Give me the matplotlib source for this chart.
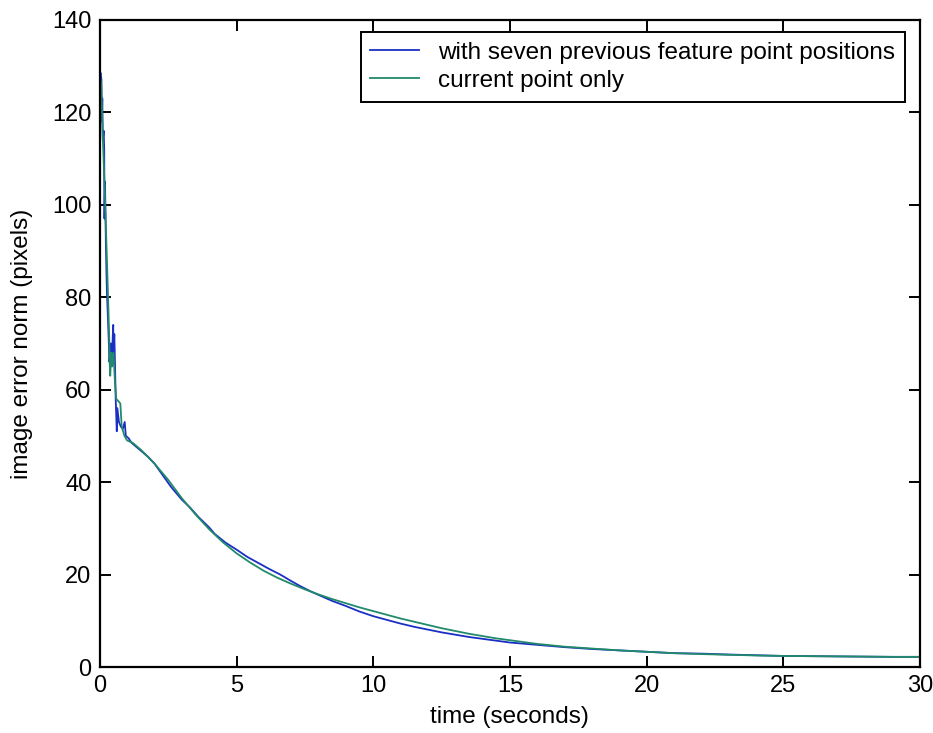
import matplotlib
matplotlib.use("Agg")
import matplotlib.pyplot as plt

# with seven previous feature point positions
t_seven = [0.0, 0.03, 0.06, 0.07, 0.09, 0.11, 0.14, 0.16, 0.17, 0.19, 0.22, 0.24,
           0.26, 0.30, 0.33, 0.35, 0.38, 0.40, 0.44, 0.47, 0.49, 0.50, 0.53, 0.56,
           0.58, 0.62, 0.64, 0.70, 0.77, 0.84, 0.91, 0.95, 1.05, 1.16, 1.3, 1.5,
           1.76, 2.0, 2.3, 2.6, 3.0, 3.3, 3.6, 4.0, 4.2, 4.6, 5.0, 5.4, 5.8, 6.2,
           6.6, 7.0, 7.3, 7.7, 8.0, 8.5, 9.0, 9.5, 10.0, 10.5, 11.0, 11.5, 12.0,
           12.5, 13.0, 13.5, 14.0, 14.5, 15.0, 16.0, 17.0, 18.0, 19.0, 20.0, 21.0,
           22.0, 23.0, 24.0, 25.0, 26.0, 27.0, 28.0, 29.0, 30.0]
err_seven = [128, 128.5, 127, 118, 123, 114, 116, 112, 97, 105, 92, 86,
             81, 75, 70, 66, 68, 70, 66, 71, 74, 68, 72, 64,
             58, 51, 56, 53, 52, 51.5, 53, 50, 49.5, 48.5, 47.8, 46.8,
             45.5, 44, 41.5, 39, 36.2, 34.5, 32.5, 30.2, 28.8, 26.9, 25.4, 23.8, 22.5, 21.2,
             20.0, 18.6, 17.6, 16.4, 15.6, 14.3, 13.2, 12.0, 11.0, 10.2, 9.4, 8.7, 8.1,
             7.5, 7.0, 6.5, 6.1, 5.7, 5.3, 4.8, 4.3, 3.9, 3.6, 3.3, 3.0,
             2.9, 2.7, 2.55, 2.4, 2.35, 2.3, 2.25, 2.2, 2.2]

# current point only
t_current = [0.0, 0.05, 0.10, 0.18, 0.25, 0.30, 0.34, 0.36, 0.38, 0.42, 0.45, 0.50,
             0.55, 0.60, 0.68, 0.75, 0.80, 0.90, 1.0, 1.2, 1.5, 2.0, 2.5, 3.0,
             3.5, 4.0, 4.5, 5.0, 5.5, 6.0, 6.5, 7.0, 7.5, 8.0, 8.5, 9.0, 9.5, 10.0,
             10.5, 11.0, 11.5, 12.0, 12.5, 13.0, 13.5, 14.0, 14.5, 15.0, 16.0, 17.0,
             18.0, 19.0, 20.0, 21.0, 22.0, 23.0, 24.0, 25.0, 26.0, 27.0, 28.0, 29.0, 30.0]
err_current = [128, 126, 116, 103, 90, 80, 72, 66, 63, 68, 65, 68,
               62, 58, 57.5, 57, 52, 50, 49, 48.5, 47, 44, 40.5, 36.5,
               33.0, 29.8, 27.0, 24.6, 22.6, 20.8, 19.3, 18.0, 16.8, 15.7, 14.7, 13.8, 12.9, 12.1,
               11.3, 10.5, 9.8, 9.1, 8.4, 7.8, 7.2, 6.7, 6.2, 5.8, 5.0, 4.4,
               4.0, 3.6, 3.3, 3.0, 2.8, 2.65, 2.5, 2.4, 2.35, 2.3, 2.25, 2.2, 2.2]

legend_labels = ["with seven previous feature point positions", "current point only"]
x_ticks = [0, 5, 10, 15, 20, 25, 30]
y_ticks = [0, 20, 40, 60, 80, 100, 120, 140]

plt.rcParams['font.family'] = ['Liberation Sans', 'DejaVu Sans']

fig = plt.figure(figsize=(9.33, 7.33), dpi=100)
ax = fig.add_axes([0.107, 0.090, 0.879, 0.883])

ax.plot(t_seven, err_seven, color='#1a2fc4', linewidth=1.3, label=legend_labels[0])
ax.plot(t_current, err_current, color='#218a6a', linewidth=1.3, label=legend_labels[1])

ax.set_xlim(0, 30)
ax.set_ylim(0, 140)
ax.set_xticks(x_ticks)
ax.set_yticks(y_ticks)
ax.tick_params(direction='in', length=8, width=1.4, top=True, right=True,
               labelsize=17, pad=6)
for sp in ax.spines.values():
    sp.set_linewidth(1.6)

ax.set_xlabel("time (seconds)", fontsize=17.5, labelpad=6)
ax.set_ylabel("image error norm (pixels)", fontsize=17.5, labelpad=14)

leg = ax.legend(loc='upper right', bbox_to_anchor=(0.982, 0.981), fontsize=17.5,
                fancybox=False, framealpha=1, edgecolor='black', borderaxespad=0,
                handlelength=2.0, borderpad=0.4, labelspacing=0.25, handletextpad=0.8)
leg.get_frame().set_linewidth(1.4)

fig.savefig("out.png", dpi=100)
